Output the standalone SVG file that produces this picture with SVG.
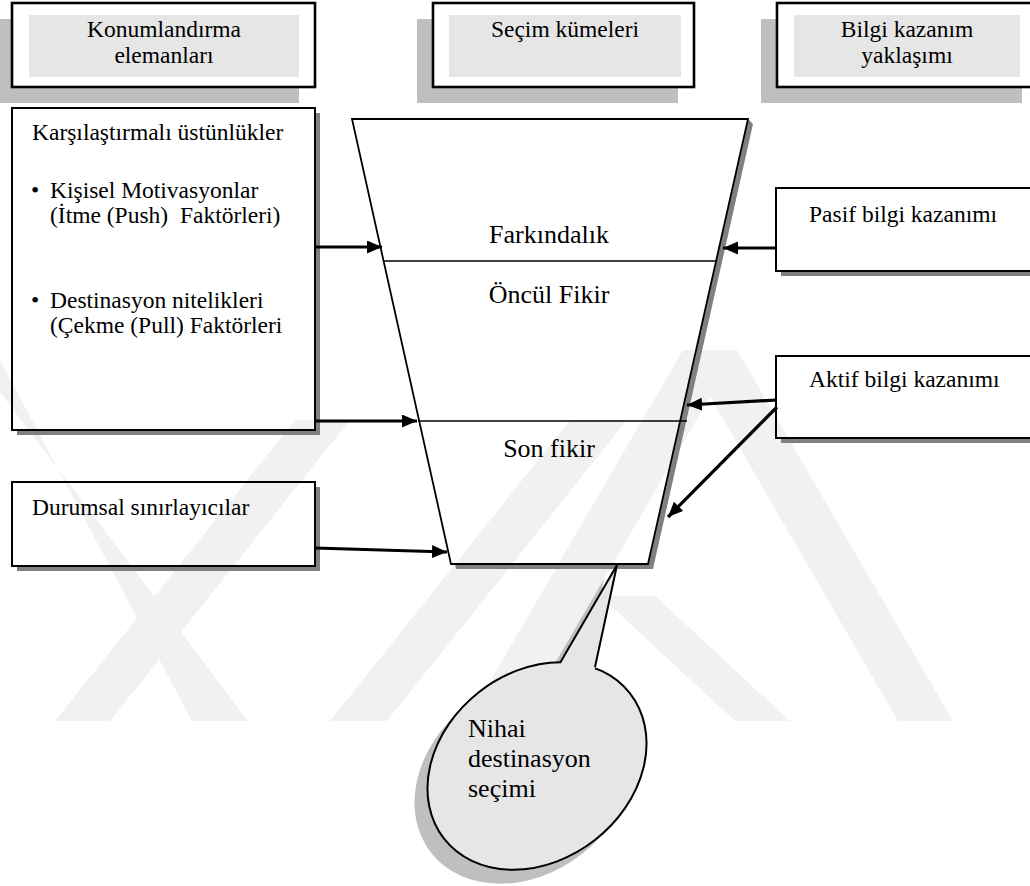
<svg xmlns="http://www.w3.org/2000/svg" width="1030" height="886" viewBox="0 0 1030 886">
  <style>
    text { font-family: 'Liberation Serif', 'Times New Roman', serif; fill: #000; }
    .hdr { font-size: 23.5px; text-anchor: middle; }
    .box { font-size: 23.5px; }
    .fun { font-size: 26px; text-anchor: middle; }
    .cal { font-size: 26px; }
    .frame { fill: none; stroke: #000; stroke-width: 2; }
    .hframe { fill: #fff; stroke: #000; stroke-width: 2.6; }
    .hfill { fill: #e6e6e6; }
    .hshadow { fill: #bfbfbf; }
    .shadow { fill: #808080; }
    .wm { fill: #f1f1f1; }
    .arrow { fill: none; stroke: #000; stroke-width: 3.2; marker-end: url(#head); }
    .thin { fill: none; stroke: #000; stroke-width: 1.6; }
  </style>
  <defs>
    <marker id="head" markerUnits="userSpaceOnUse" markerWidth="16" markerHeight="14" refX="15" refY="6.5" orient="auto">
      <path d="M0,0 L15,6.5 L0,13 Z" fill="#000"/>
    </marker>
  </defs>

  <rect width="1030" height="886" fill="#fff"/>

  <!-- faint background emblem -->
  <g id="emblem">
    <polygon class="wm" points="55,721 110,721 350,420 295,420"/>
    <polygon class="wm" points="192,721 248,721 0,392 0,360"/>
    <polygon class="wm" points="330,721 387,721 627,420 570,420"/>
    <polygon class="wm" points="467,721 522,721 737,350 683,350"/>
    <polygon class="wm" points="683,350 737,350 953,721 898,721"/>
    <polygon class="wm" points="600,596 655,596 790,721 735,721"/>
  </g>

  <!-- column headers -->
  <g id="hdr-konum">
    <rect class="hshadow" x="-4" y="19" width="303" height="84"/>
    <rect class="hframe" x="12" y="3" width="303" height="84"/>
    <rect class="hfill" x="29" y="15" width="270" height="62"/>
    <text class="hdr" x="164" y="37">Konumlandırma</text>
    <text class="hdr" x="164" y="63">elemanları</text>
  </g>
  <g id="hdr-secim">
    <rect class="hshadow" x="417" y="19" width="261" height="84"/>
    <rect class="hframe" x="433" y="3" width="261" height="84"/>
    <rect class="hfill" x="449" y="15" width="232" height="62"/>
    <text class="hdr" x="565" y="37">Seçim kümeleri</text>
  </g>
  <g id="hdr-bilgi">
    <rect class="hshadow" x="761" y="19" width="261" height="84"/>
    <rect class="hframe" x="777" y="3" width="261" height="84"/>
    <rect class="hfill" x="794" y="15" width="226" height="62"/>
    <text class="hdr" x="907" y="37">Bilgi kazanım</text>
    <text class="hdr" x="907" y="63">yaklaşımı</text>
  </g>

  <!-- left column -->
  <g id="karsilastirmali">
    <rect class="shadow" x="315" y="113" width="5" height="322"/>
    <rect class="shadow" x="17" y="430" width="303" height="5"/>
    <rect class="frame" x="12" y="108" width="303" height="322"/>
    <text class="box" x="32" y="140">Karşılaştırmalı üstünlükler</text>
    <text class="box" x="31" y="198">•</text>
    <text class="box" x="50" y="198">Kişisel Motivasyonlar</text>
    <text class="box" x="50" y="223">(İtme (Push)&#160; Faktörleri)</text>
    <text class="box" x="31" y="308">•</text>
    <text class="box" x="50" y="308">Destinasyon nitelikleri</text>
    <text class="box" x="50" y="333">(Çekme (Pull) Faktörleri</text>
  </g>
  <g id="durumsal">
    <rect class="shadow" x="315" y="487" width="5" height="84"/>
    <rect class="shadow" x="17" y="566" width="303" height="5"/>
    <rect class="frame" x="12" y="482" width="303" height="84"/>
    <text class="box" x="32" y="515">Durumsal sınırlayıcılar</text>
  </g>

  <!-- funnel -->
  <g id="funnel">
    <polygon class="shadow" points="748,119 753,124 653,569 456,569 455,564 648,564"/>
    <polygon fill="none" stroke="#000" stroke-width="1.8" points="352,119 748,119 648,564 451,564"/>
    <line class="thin" x1="384" y1="261" x2="716" y2="261"/>
    <line class="thin" x1="418" y1="421" x2="687" y2="421"/>
    <text class="fun" x="549" y="243">Farkındalık</text>
    <text class="fun" x="549" y="303">Öncül Fikir</text>
    <text class="fun" x="549" y="457">Son fikir</text>
  </g>

  <!-- right column -->
  <g id="pasif">
    <rect class="shadow" x="781" y="271" width="260" height="5"/>
    <rect class="frame" x="776" y="188" width="262" height="83"/>
    <text class="box" x="809" y="222">Pasif bilgi kazanımı</text>
  </g>
  <g id="aktif">
    <rect class="shadow" x="781" y="438" width="260" height="5"/>
    <rect class="frame" x="776" y="356" width="262" height="82"/>
    <text class="box" x="809" y="387">Aktif bilgi kazanımı</text>
  </g>

  <!-- final choice callout -->
  <g id="nihai">
    <g transform="translate(-13,14)" fill="#bfbfbf">
      <ellipse cx="537" cy="766" rx="118" ry="94" transform="rotate(-38 537 766)"/>
      <polygon points="617,565 560,663 595,667"/>
    </g>
    <ellipse cx="537" cy="766" rx="118" ry="94" transform="rotate(-38 537 766)" fill="#e6e6e6" stroke="#000" stroke-width="2"/>
    <polygon points="617,565 560,663 562,674 594,676 595,667" fill="#e6e6e6"/>
    <polyline points="560,663 617,565 595,667" fill="none" stroke="#000" stroke-width="2"/>
    <text class="cal" x="468" y="737">Nihai</text>
    <text class="cal" x="468" y="767">destinasyon</text>
    <text class="cal" x="468" y="797">seçimi</text>
  </g>

  <!-- connectors -->
  <g id="connectors">
    <line class="arrow" x1="315" y1="247" x2="382" y2="247"/>
    <line class="arrow" x1="315" y1="421" x2="417" y2="421"/>
    <line class="arrow" x1="315" y1="548" x2="447" y2="552"/>
    <line class="arrow" x1="776" y1="248" x2="723" y2="248"/>
    <line class="arrow" x1="777" y1="400" x2="687" y2="405"/>
    <line class="arrow" x1="777" y1="407" x2="668" y2="517"/>
  </g>
</svg>
